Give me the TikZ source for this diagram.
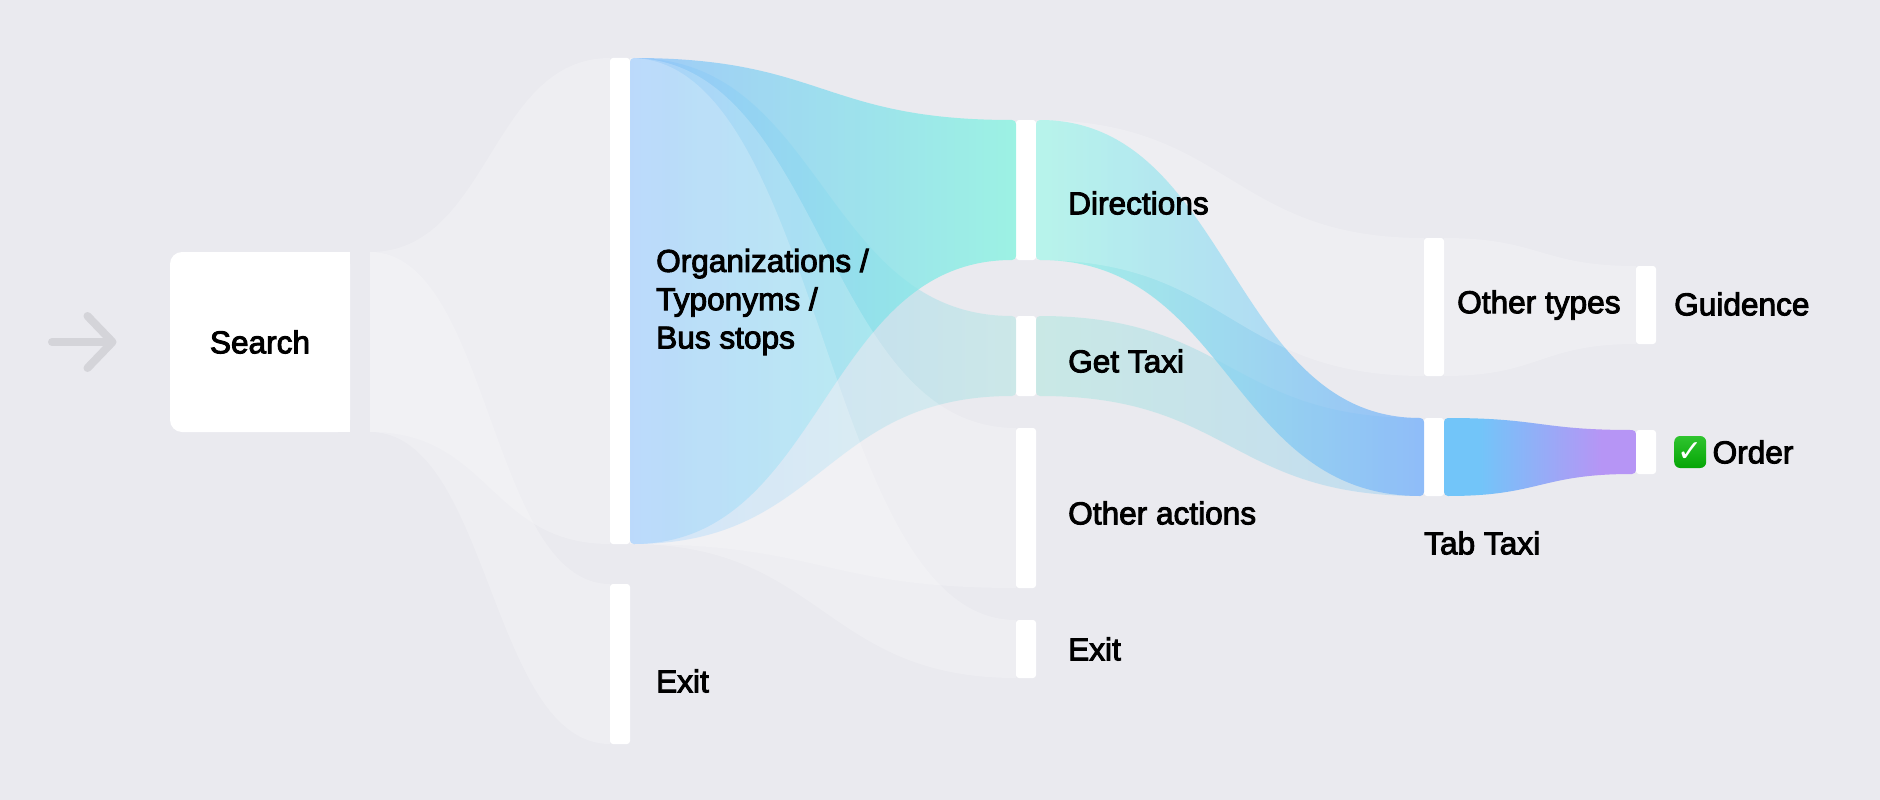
\documentclass[tikz,border=0pt]{standalone}
\usepackage{fontspec}
\setmainfont{Liberation Sans}[RawFeature={embolden=3}]
\newfontfamily\checkfont{DejaVu Sans}
\usetikzlibrary{positioning, calc, arrows.meta}
\tikzset{>={Straight Barb[round, length=25pt, width=52pt]}}
\definecolor{pagebg}{HTML}{EAEAEF}
\definecolor{arrowgrey}{HTML}{D4D4D9}
\definecolor{checklight}{HTML}{2FC42F}
\definecolor{checkdark}{HTML}{05A505}
\definecolor{taxiblue}{HTML}{72C5F9}
\definecolor{orderviolet}{HTML}{B695F5}
\pgfdeclarehorizontalshading{taxiorder}{100bp}{color(0bp)=(taxiblue); color(34bp)=(taxiblue); color(66bp)=(orderviolet); color(100bp)=(orderviolet)}
\newcommand{\band}[3][]{%
  \path[#1] let \p1=(#2.north east), \p2=(#3.north west), \p3=(#3.south west),
    \p4=(#2.south east), \p5=($(\p1)!.5!(\p2)$) in
    (\p1) .. controls (\x5,\y1) and (\x5,\y2) .. (\p2) -- (\p3)
    .. controls (\x5,\y3) and (\x5,\y4) .. (\p4) -- cycle;}
\tikzset{bar/.style={fill=white, minimum width=20pt, inner sep=0pt, outer sep=0pt, rounded corners=3pt},
  lab/.style={inner sep=0pt, align=left, font=\fontsize{31.6}{38.3}\selectfont},
  pale/.style={fill=white, opacity=.2},
  tint/.style={rounded corners=4pt, opacity=.5},
  main/.style={rounded corners=4pt, opacity=.75}}

\begin{document}
\begin{tikzpicture}[x=1pt, y=-1pt]
    \path[use as bounding box, fill=pagebg] (0,0) rectangle (1880,800);

    % entry arrow
    \coordinate (tail) at (52,342);
    \coordinate (tip) at (116.5,342);
    \draw[->, arrowgrey, line width=8pt, line cap=round] (tail) -- (tip);

    % first step
    \fill[white] (260,252) rectangle (350,432);
    \node[fill=white, rounded corners=12pt, minimum width=180pt, minimum height=180pt, outer sep=0pt, font=\fontsize{31.6}{38}\selectfont]
    (search) at (260,342) {Search};
    \node[right=0pt of search, minimum width=20pt, minimum height=180pt, inner sep=0pt, outer sep=0pt] (searchgap) {};

    % bars
    \node[bar, minimum height=486pt] (org) at (620,301) {};
    \node[bar, minimum height=160pt] (exita) at (620,664) {};
    \node[bar, minimum height=140pt] (directions) at (1026,190) {};
    \node[bar, minimum height=80pt] (gettaxi) at (1026,356) {};
    \node[bar, minimum height=160pt] (otheractions) at (1026,508) {};
    \node[bar, minimum height=58pt] (exitb) at (1026,649) {};
    \node[bar, minimum height=138pt] (othertypes) at (1434,307) {};
    \node[bar, minimum height=78pt] (tabtaxi) at (1434,457) {};
    \node[bar, minimum height=78pt] (guidence) at (1646,305) {};
    \node[bar, minimum height=44pt] (order) at (1646,452) {};

    % flows
    \band[pale]{searchgap}{org}
    \band[pale]{searchgap}{exita}

    \band[tint, left color={rgb,255:red,143;green,197;blue,253}, right color={rgb,255:red,175;green,231;blue,226}]{org}{gettaxi}
    \band[main, left color={rgb,255:red,136;green,192;blue,252}, right color={rgb,255:red,130;green,245;blue,224}]{org}{directions}
    \band[pale]{org}{otheractions}
    \band[pale]{org}{exitb}

    \band[tint, left color={rgb,255:red,169;green,232;blue,221}, right color={rgb,255:red,159;green,207;blue,243}]{gettaxi}{tabtaxi}
    \band[main, opacity=.8, left color={rgb,255:red,149;green,244;blue,229}, right color={rgb,255:red,130;green,181;blue,250}]{directions}{tabtaxi}
    \band[pale]{directions}{othertypes}

    \band[pale]{othertypes}{guidence}
    \band[rounded corners=4pt, shading=taxiorder]{tabtaxi}{order}

    % labels
    \node[lab, right=26pt of org, yshift=-1pt] (orglabel) {Organizations /\\Typonyms /\\Bus stops};
    \node[lab, right=26pt of exita, yshift=-17pt] (exitalabel) {Exit};
    \node[lab, right=32pt of directions, yshift=-13pt] (directionslabel) {Directions};
    \node[lab, right=32pt of gettaxi, yshift=-5pt] (gettaxilabel) {Get Taxi};
    \node[lab, right=32pt of otheractions, yshift=-5pt] (otheractionslabel) {Other actions};
    \node[lab, right=32pt of exitb] (exitblabel) {Exit};
    \node[lab, right=13pt of othertypes, yshift=2pt] (othertypeslabel) {Other types};
    \node[lab, right=18pt of guidence, yshift=1pt] (guidencelabel) {Guidence};
    \node[lab, anchor=west] (tabtaxilabel) at ([yshift=-47pt]tabtaxi.south west) {Tab Taxi};
    \node[right=18pt of order, top color=checklight, bottom color=checkdark, text=white, rounded corners=6pt, minimum size=32pt, inner sep=0pt, font=\checkfont\fontsize{30}{30}\selectfont] (check) {✓};
    \node[lab, right=6pt of check] (orderlabel) {Order};
  \end{tikzpicture}
\end{document}
